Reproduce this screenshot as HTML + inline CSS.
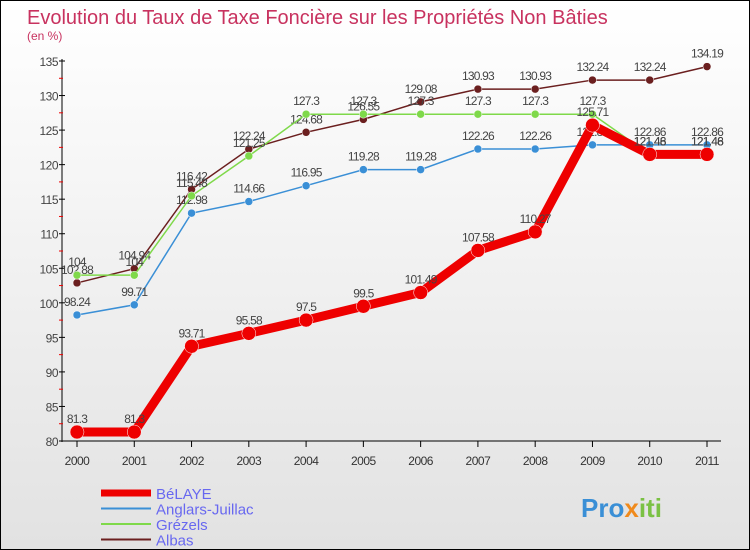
<!DOCTYPE html>
<html><head><meta charset="utf-8"><style>
body{margin:0}
#c{width:750px;height:550px;position:relative;overflow:hidden;border:1px solid #000;box-sizing:border-box;background:linear-gradient(#fff,#e2e2e2);font-family:"Liberation Sans",sans-serif}
</style></head><body>
<div id="c">
<svg id="s" width="750" height="550" style="position:absolute;left:0;top:0">
<text x="26" y="23" font-size="20" fill="#c8325f">Evolution du Taux de Taxe Foncière sur les Propriétés Non Bâties</text>
<text x="26" y="39" font-size="12" fill="#c8325f">(en %)</text>
<g id="axes"></g><g id="series"></g><g id="legend"></g>
<text x="580" y="516" font-size="26" font-weight="bold" fill="#3a8fd6">Pro<tspan fill="#f08a1c">x</tspan><tspan fill="#7ac143">iti</tspan></text>
</svg>
</div>
<script>
const years=["2000","2001","2002","2003","2004","2005","2006","2007","2008","2009","2010","2011"];
const yTicks=[80,85,90,95,100,105,110,115,120,125,130,135];
const belaye=[81.3,81.3,93.71,95.58,97.5,99.5,101.49,107.58,110.27,125.71,121.48,121.48];
const anglars=[98.24,99.71,112.98,114.66,116.95,119.28,119.28,122.26,122.26,122.86,122.86,122.86];
const grezels=[104,104,115.48,121.25,127.3,127.3,127.3,127.3,127.3,127.3,121.46,121.46];
const albas=[102.88,104.94,116.42,122.24,124.68,126.55,129.08,130.93,130.93,132.24,132.24,134.19];
const NS="http://www.w3.org/2000/svg";
const X=i=>76+i*(630/11);
const Y=v=>440-(v-80)*(380/55);
function mk(t,a,p){const e=document.createElementNS(NS,t);for(const k in a)e.setAttribute(k,a[k]);p.appendChild(e);return e;}
const ax=document.getElementById('axes');
let l=mk('line',{x1:61,y1:58,x2:61,y2:441,stroke:'#000'},ax);


l=mk('line',{x1:61,y1:440,x2:720,y2:440,stroke:'#000'},ax);


yTicks.forEach((v,i)=>{
 mk('line',{x1:58,y1:Y(v),x2:64,y2:Y(v),stroke:'#000'},ax);
 if(i<yTicks.length-1)mk('line',{x1:58,y1:Y(v+2.5),x2:62,y2:Y(v+2.5),stroke:'#e00'},ax);
 const t=mk('text',{x:57,y:Y(v)+5,'font-size':12,fill:'#444','text-anchor':'end','letter-spacing':'-0.5'},ax);t.textContent=v;
 
 
});
years.forEach((y,i)=>{
 mk('line',{x1:X(i),y1:440,x2:X(i),y2:446,stroke:'#000'},ax);
 const t=mk('text',{x:X(i),y:464,'font-size':12,fill:'#333','text-anchor':'middle','letter-spacing':'-0.5'},ax);t.textContent=y;
 
 
});
const series=[
 {name:'Albas',d:albas,c:'#6b1f1f',w:1.5,r:4},
 {name:'Anglars-Juillac',d:anglars,c:'#3a8fd6',w:1.5,r:4},
 {name:'Grézels',d:grezels,c:'#7fd94a',w:1.5,r:4},
 {name:'BéLAYE',d:belaye,c:'#ee0000',w:9,r:7}];
const sg=document.getElementById('series');
series.forEach(s=>{
 const g=mk('g',{},sg);
 
 
 mk('polyline',{points:s.d.map((v,i)=>X(i)+','+Y(v)).join(' '),fill:'none',stroke:s.c,'stroke-width':s.w},g);
 s.d.forEach((v,i)=>{
  const c=mk('circle',{cx:X(i),cy:Y(v),r:s.r,fill:s.c,stroke:'#fff','stroke-width':0.5},g);
  
  
  const t=mk('text',{x:X(i),y:Y(v)-9,'font-size':12,fill:'#444','text-anchor':'middle','letter-spacing':'-0.8'},g);t.textContent=v;
 });
});
const lg=document.getElementById('legend');
[series[3],series[1],series[2],series[0]].forEach((s,i)=>{
 const y=492+i*15.5;
 const g=mk('g',{},lg);
 
 
 mk('line',{x1:100,y1:y,x2:150,y2:y,stroke:s.c,'stroke-width':s.w===9?7:2},g);
 const t=mk('text',{x:155,y:y+6,'font-size':15,fill:'#6868f0'},g);t.textContent=s.name;
});
</script>
</body></html>
